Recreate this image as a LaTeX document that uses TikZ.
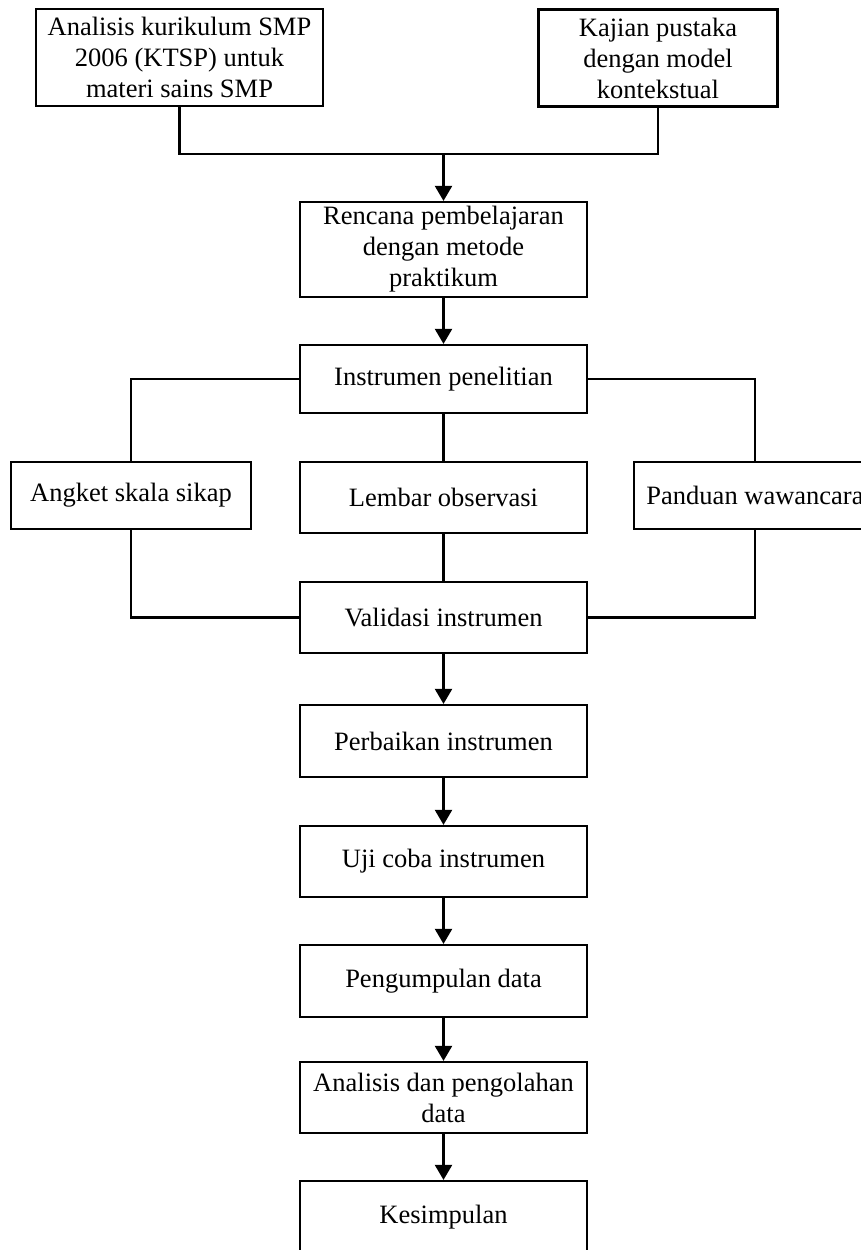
\documentclass[tikz,border=0pt]{standalone}
\usepackage{fontspec}
\setmainfont{Liberation Serif}
\usetikzlibrary{arrows.meta}
\begin{document}
\begin{tikzpicture}[x=1pt, y=-1pt, line width=2.2pt,
		font=\fontsize{26.5}{31}\selectfont,
		kotak/.style={draw, align=center, inner sep=0pt, minimum width=287pt},
		panah/.style={-{Triangle[length=15pt, width=17pt]}}]
				\useasboundingbox (0,0) rectangle (860,1250);
				\node[kotak, minimum height=97pt] (kur) at (179.5,57.5) {Analisis kurikulum SMP\\2006 (KTSP) untuk\\materi sains SMP};
				\node[kotak, minimum width=239pt, minimum height=97pt] (kaj) at (658,58) {Kajian pustaka\\dengan model\\kontekstual};
				\coordinate (gabung) at (443.5,154);
				\node[kotak, minimum height=95pt] (rencana) at (443.5,249.5) {Rencana pembelajaran\\dengan metode\\praktikum};
				\node[kotak, minimum height=68pt] (instr) at (443.5,379) {Instrumen penelitian};
				\node[kotak, minimum width=240pt, minimum height=67pt] (angket) at (131,495.5) {Angket skala sikap};
				\node[kotak, minimum height=71pt] (lembar) at (443.5,497.5) {Lembar observasi};
				\node[kotak, minimum width=242pt, minimum height=67pt] (panduan) at (755,495.5) {Panduan wawancara};
				\node[kotak, minimum height=71pt] (valid) at (443.5,617.5) {Validasi instrumen};
				\node[kotak, minimum height=72pt] (perbaikan) at (443.5,741) {Perbaikan instrumen};
				\node[kotak, minimum height=71pt] (uji) at (443.5,861.5) {Uji coba instrumen};
				\node[kotak, minimum height=72pt] (kumpul) at (443.5,981) {Pengumpulan data};
				\node[kotak, minimum height=71pt] (olah) at (443.5,1097.5) {Analisis dan pengolahan\\data};
				\node[kotak, minimum height=72pt] (simpul) at (443.5,1217) {Kesimpulan};
				% dua kajian awal menjadi satu
				\draw (kur.south) -- (kur.south |- gabung) -- (kaj.south |- gabung) -- (kaj.south);
				\draw[panah] (gabung) -- (rencana.north);
				\draw[panah] (rencana) -- (instr);
				% cabang instrumen
				\draw (instr.west) -- (angket.north |- instr.west) -- (angket.north);
				\draw (instr.east) -- (panduan.north |- instr.east) -- (panduan.north);
				\draw (instr) -- (lembar);
				\draw (lembar) -- (valid);
				\draw (angket.south) -- (angket.south |- valid.west) -- (valid.west);
				\draw (panduan.south) -- (panduan.south |- valid.east) -- (valid.east);
				% alur sampai kesimpulan
				\draw[panah] (valid) -- (perbaikan);
				\draw[panah] (perbaikan) -- (uji);
				\draw[panah] (uji) -- (kumpul);
				\draw[panah] (kumpul) -- (olah);
				\draw[panah] (olah) -- (simpul);
			\end{tikzpicture}
\end{document}
